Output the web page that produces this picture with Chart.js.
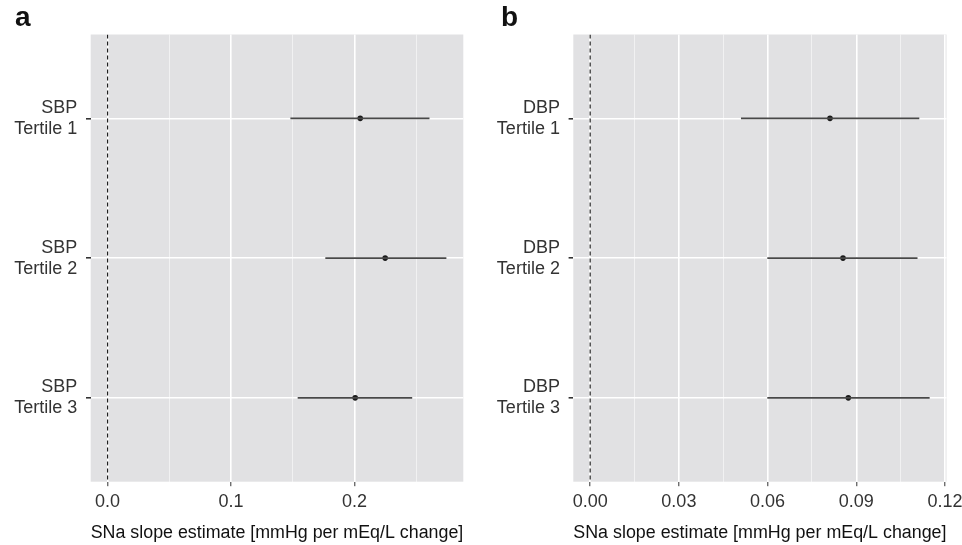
<!DOCTYPE html>
<html>
<head>
<meta charset="utf-8">
<script src="https://cdn.jsdelivr.net/npm/chart.js@4"></script>
<style>
  html, body { margin: 0; padding: 0; background: #fff; }
  .panel { position: absolute; top: 0; width: 481px; height: 545px; }
  .tag { position: absolute; top: 3px; font: bold 28px 'Liberation Sans', Arial, sans-serif; line-height: 28px; color: #111; }
</style>
</head>
<body>
<div class="panel" style="left:0">
  <canvas id="chartA" width="481" height="545"></canvas>
  <div class="tag" style="left:15px">a</div>
</div>
<div class="panel" style="left:481px">
  <canvas id="chartB" width="481" height="545"></canvas>
  <div class="tag" style="left:20px">b</div>
</div>
<script>
// panel a - systolic
const aLabels = [['SBP', 'Tertile 1'], ['SBP', 'Tertile 2'], ['SBP', 'Tertile 3']];
const aEstimate = [0.2047, 0.2249, 0.2006];
const aLower = [0.1481, 0.1764, 0.1540];
const aUpper = [0.2608, 0.2745, 0.2468];
const aTicks = [0, 0.1, 0.2];
const aMinorTicks = [0.05, 0.15, 0.25];
const aRange = [-0.0137, 0.2882];

// panel b - diastolic
const bLabels = [['DBP', 'Tertile 1'], ['DBP', 'Tertile 2'], ['DBP', 'Tertile 3']];
const bEstimate = [0.0811, 0.0855, 0.0873];
const bLower = [0.0510, 0.0599, 0.0599];
const bUpper = [0.1113, 0.1107, 0.1148];
const bTicks = [0, 0.03, 0.06, 0.09, 0.12];
const bMinorTicks = [0.015, 0.045, 0.075, 0.105];
const bRange = [-0.0057, 0.1205];

const refValue = 0;
const xTitle = 'SNa slope estimate [mmHg per mEq/L change]';

Chart.defaults.font.family = "'Liberation Sans', Arial, sans-serif";

const panelBackground = {
    id: 'panelBackground',
    beforeDraw(chart) {
        const a = chart.chartArea;
        const ctx = chart.ctx;
        ctx.save();
        ctx.fillStyle = '#e1e1e3';
        ctx.fillRect(a.left, a.top, a.right - a.left, a.bottom - a.top);
        ctx.restore();
    }
};

function makePanel(id, labels, est, lower, upper, ticks, minorTicks, range, decimals, axisWidth, padRight) {
    const ymin = 0.4, ymax = labels.length + 0.6;
    const datasets = [];

    // dashed reference line at zero
    datasets.push({
        data: [{x: refValue, y: ymin}, {x: refValue, y: ymax}],
        showLine: true,
        borderColor: '#111',
        borderWidth: 1.1,
        borderDash: [4, 3],
        pointRadius: 0
    });

    // confidence intervals
    labels.forEach((_, i) => {
        datasets.push({
            data: [{x: lower[i], y: i + 1}, {x: upper[i], y: i + 1}],
            showLine: true,
            borderColor: '#484848',
            borderWidth: 1.8,
            pointRadius: 0
        });
    });

    // point estimates
    datasets.push({
        data: est.map((v, i) => ({x: v, y: i + 1})),
        pointRadius: 2.8,
        pointBackgroundColor: '#1a1a1a',
        pointBorderWidth: 0
    });

    return new Chart(document.getElementById(id), {
        type: 'scatter',
        data: {datasets: datasets},
        plugins: [panelBackground],
        options: {
            responsive: false,
            animation: false,
            layout: {padding: {top: 34.5, right: padRight, left: 0, bottom: 0}},
            plugins: {legend: {display: false}, tooltip: {enabled: false}},
            scales: {
                x: {
                    type: 'linear',
                    min: range[0],
                    max: range[1],
                    afterBuildTicks: scale => {
                        const all = ticks.map(v => ({value: v, minor: false}))
                            .concat(minorTicks.map(v => ({value: v, minor: true})));
                        all.sort((p, q) => p.value - q.value);
                        scale.ticks = all;
                    },
                    afterFit: scale => {
                        scale.height = 63.3;
                        scale.paddingLeft = 0;
                        scale.paddingRight = 0;
                    },
                    border: {display: false},
                    grid: {
                        color: c => c.tick && c.tick.minor ? 'rgba(255,255,255,0.55)' : '#ffffff',
                        lineWidth: c => c.tick && c.tick.minor ? 1 : 1.6,
                        tickColor: c => c.tick && c.tick.minor ? 'rgba(0,0,0,0)' : '#333',
                        tickLength: 4.5,
                        tickWidth: 1
                    },
                    ticks: {
                        color: '#333',
                        font: {size: 18},
                        padding: 5,
                        maxRotation: 0,
                        autoSkip: false,
                        callback: (v, i, t) => t[i].minor ? '' : Number(v).toFixed(decimals)
                    },
                    title: {
                        display: true,
                        text: xTitle,
                        color: '#111',
                        font: {size: 18.8},
                        padding: {top: 0, bottom: 1}
                    }
                },
                y: {
                    type: 'linear',
                    min: ymin,
                    max: ymax,
                    reverse: true,
                    afterBuildTicks: scale => {
                        scale.ticks = labels.map((_, i) => ({value: i + 1}));
                    },
                    afterFit: scale => {
                        scale.width = axisWidth;
                        scale.paddingTop = 0;
                        scale.paddingBottom = 0;
                    },
                    border: {display: false},
                    grid: {
                        color: '#ffffff',
                        lineWidth: 1.6,
                        tickColor: '#333',
                        tickLength: 4.7
                    },
                    ticks: {
                        color: '#333',
                        font: {size: 18, lineHeight: 1.17},
                        padding: 8.7,
                        autoSkip: false,
                        callback: (v, i) => labels[i]
                    }
                }
            }
        }
    });
}

makePanel('chartA', aLabels, aEstimate, aLower, aUpper, aTicks, aMinorTicks, aRange, 1, 90.7, 17.7);
makePanel('chartB', bLabels, bEstimate, bLower, bUpper, bTicks, bMinorTicks, bRange, 2, 92.3, 15.5);
</script>
</body>
</html>
